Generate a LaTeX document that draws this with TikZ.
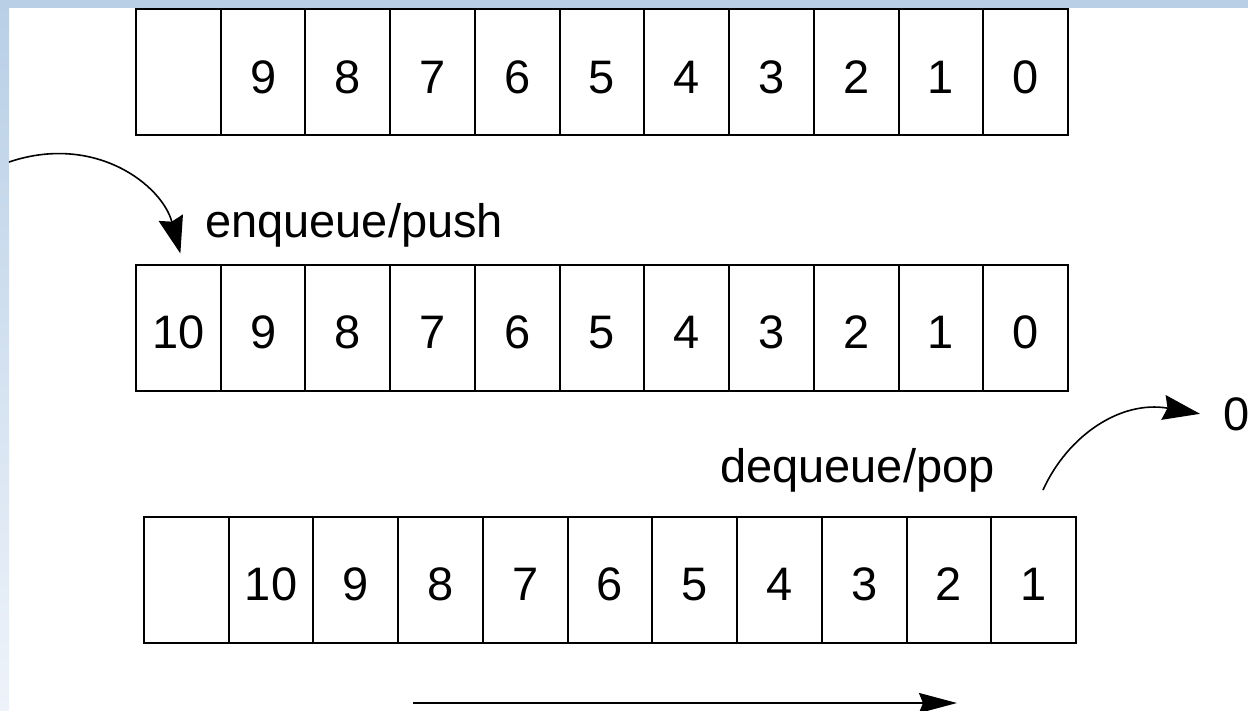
\documentclass[tikz,border=0pt]{standalone}
\usepackage{fontspec}
\setmainfont{Liberation Sans}
\usetikzlibrary{arrows.meta}
\definecolor{band}{HTML}{B8CFE6}
\definecolor{bandlight}{HTML}{EEF3FA}
\begin{document}
\begin{tikzpicture}[x=1pt,y=-1pt,
  cell/.style={draw, line width=2pt, minimum width=84.73pt, minimum height=126pt, inner sep=0pt, text height=42pt, text depth=0pt, font=\fontsize{47}{50}\selectfont},
  lbl/.style={anchor=base west, inner sep=0pt, font=\fontsize{47}{50}\selectfont},
  curve/.style={line width=1.6pt, -{Stealth[length=37pt,width=25pt,inset=4pt]}},
  straight/.style={line width=2pt, -{Stealth[length=38pt,width=20pt,inset=4pt]}}]
\useasboundingbox (0,0) rectangle (1248,710);
\fill[white] (0,0) rectangle (1248,710);
\fill[band] (0,0) rectangle (1248,8);
\shade[top color=band, bottom color=bandlight] (0,0) rectangle (9,710);
% rows
\foreach \t [count=\i from 0] in {{},9,8,7,6,5,4,3,2,1,0}
  \node[cell] (a\i) at ({136+84.73*(\i+0.5)},72) {\t};
\foreach \t [count=\i from 0] in {10,9,8,7,6,5,4,3,2,1,0}
  \node[cell] (b\i) at ({136+84.73*(\i+0.5)},327.5) {\t};
\foreach \t [count=\i from 0] in {{},10,9,8,7,6,5,4,3,2,1}
  \node[cell] (c\i) at ({144+84.73*(\i+0.5)},579.5) {\t};
% labels
\node[lbl] (enq) at (205,237) {enqueue/push};
\node[lbl] (deq) at (720,482) {dequeue/pop};
\node[lbl] (out0) at (1223,430) {0};
% arrows
\coordinate (enqstart) at (9,162);
\draw[curve] (enqstart) .. controls (95,133) and (162,185) .. ([shift={(2,-10)}]b0.north);
\coordinate (deqstart) at (1043,490);
\draw[curve] (deqstart) .. controls (1068,435) and (1121,400) .. ([xshift=-23pt]out0.west);
\coordinate (bs) at (413,703);
\coordinate (be) at (957,703);
\draw[straight] (bs) -- (be);
\end{tikzpicture}
\end{document}
